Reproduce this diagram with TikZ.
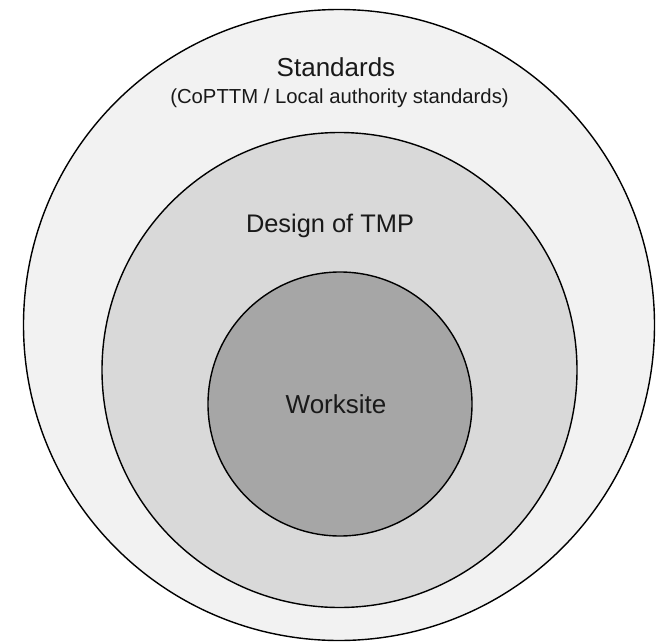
\documentclass[tikz,border=0pt]{standalone}
\usepackage{fontspec}
\setmainfont{Liberation Sans}
\usetikzlibrary{positioning}

\begin{document}
\begin{tikzpicture}[x=1pt, y=-1pt, every node/.style={inner sep=0pt, text=black!90}]

% --- GREY SHADES ---
\definecolor{stdfill}{RGB}{242, 242, 242}   % outer ring
\definecolor{tmpfill}{RGB}{217, 217, 217}   % middle ring
\definecolor{sitefill}{RGB}{166, 166, 166}  % inner disc

\useasboundingbox (0,0) rectangle (659,642);

% --- RINGS ---
\draw[line width=1.4pt, fill=stdfill] (339,325) circle (315.5);
\draw[line width=1.4pt, fill=tmpfill] (339.5,370) circle (237.5);
\draw[line width=1.4pt, fill=sitefill] (340,404) circle (132);

% --- LABELS ---
\node[anchor=base] (standards) at (336,77) {\fontsize{26}{30}\selectfont Standards};
\node[anchor=base] (stdsub) at (339.5,103) {\fontsize{20.3}{24}\selectfont (CoPTTM / Local authority standards)};
\node[anchor=base] (design) at (330,232) {\fontsize{25.4}{30}\selectfont Design of TMP};
\node[anchor=base] (worksite) at (336,413) {\fontsize{26}{30}\selectfont Worksite};

\end{tikzpicture}
\end{document}
